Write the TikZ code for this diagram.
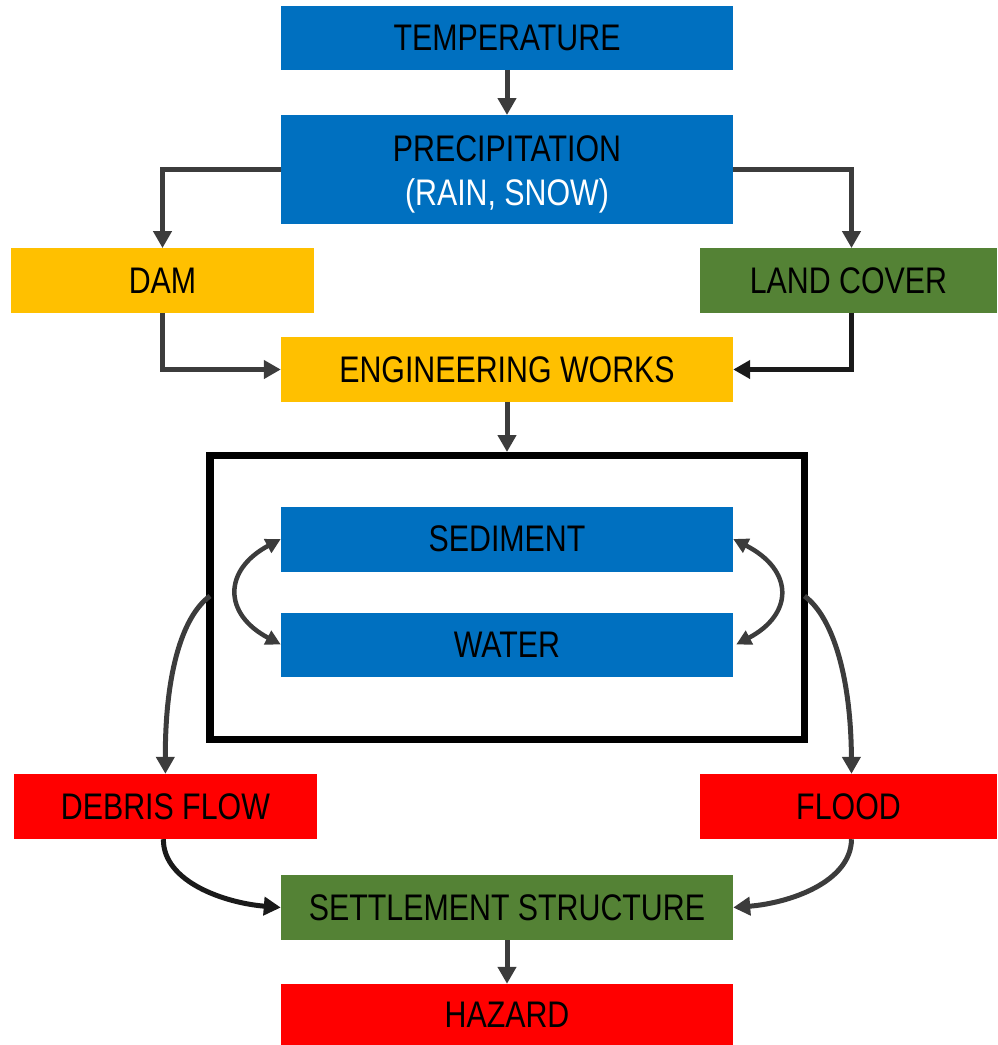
\documentclass[tikz,border=0pt]{standalone}
\usepackage{fontspec}
\setmainfont{Liberation Sans}[FakeStretch=0.82]
\usetikzlibrary{arrows.meta}
\definecolor{cblue}{HTML}{0070C0}
\definecolor{cyellow}{HTML}{FFC000}
\definecolor{cgreen}{HTML}{548235}
\definecolor{cred}{HTML}{FF0000}
\definecolor{carrow}{HTML}{3C3C3C}
\definecolor{cdark}{HTML}{1A1A1A}
\tikzset{
  box/.style={rectangle, inner sep=0pt, minimum width=452pt, minimum height=64pt, text=black,
    font=\fontsize{37}{44}\selectfont},
  conn/.style={draw=carrow, line width=5pt, -{Triangle[length=17pt,width=18pt]}},
  dconn/.style={draw=carrow, line width=4.5pt, {Triangle[length=15pt,width=15pt]}-{Triangle[length=15pt,width=15pt]}},
  txt/.style={inner sep=0pt, anchor=base, font=\fontsize{37}{44}\selectfont}
}
\begin{document}
\begin{tikzpicture}[x=1pt,y=-1pt]
\useasboundingbox (0,0) rectangle (997,1045);
% boxes
\node[box, fill=cblue] (temp) at (507,37.6) {TEMPERATURE};
\node[box, fill=cblue, minimum height=109pt] (precip) at (507,169.7) {};
\node[txt] (p1) at (507,161) {PRECIPITATION};
\node[txt, text=white] (p2) at (507,205.5) {(RAIN, SNOW)};
\node[box, fill=cyellow, minimum width=303pt, minimum height=64.5pt] (dam) at (162.5,280.5) {DAM};
\node[box, fill=cgreen, minimum width=297pt, minimum height=64.5pt] (lc) at (848.5,280.5) {LAND COVER};
\node[box, fill=cyellow, minimum height=64.5pt] (eng) at (507,369.5) {ENGINEERING WORKS};
\draw[line width=7.5pt, black] (210,455.5) rectangle (804.5,739.5);
\coordinate (ftop) at (507,452);
\coordinate (fl) at (210,596);
\coordinate (fr) at (804.5,596);
\node[box, fill=cblue, minimum height=65pt] (sed) at (507,539) {SEDIMENT};
\node[box, fill=cblue] (wat) at (507,644.5) {WATER};
\node[box, fill=cred, minimum width=303pt, minimum height=65pt] (deb) at (165.4,806.5) {DEBRIS FLOW};
\node[box, fill=cred, minimum width=297pt, minimum height=65pt] (flood) at (848.5,806.5) {FLOOD};
\node[box, fill=cgreen, minimum height=65pt] (set) at (507,907.5) {SETTLEMENT STRUCTURE};
\node[box, fill=cred, minimum height=61pt] (haz) at (507,1014.5) {HAZARD};
% connectors
\draw[conn] (temp.south) -- (precip.north);
\draw[conn] (precip.west) -| (dam.north);
\draw[conn] (precip.west) ++(0,0) (precip.east) -| ([xshift=3pt]lc.north);
\draw[conn] (dam.south) |- (eng.west);
\draw[conn, draw=cdark] ([xshift=3pt]lc.south) |- (eng.east);
\draw[conn] (eng.south) -- (ftop);
\draw[dconn] (sed.west) .. controls (223,570) and (223,614) .. (wat.west);
\draw[dconn] (sed.east) .. controls (794,570) and (794,614) .. ([xshift=3pt]wat.east);
\draw[conn] (fl) .. controls (180,618) and (165,680) .. (deb.north);
\draw[conn] (fr) .. controls (834,618) and (851,680) .. ([xshift=3pt]flood.north);
\draw[conn, draw=cdark] ([xshift=-2pt]deb.south) .. controls (163,882) and (225,903) .. (set.west);
\draw[conn] ([xshift=3pt]flood.south) .. controls (851,882) and (790,903) .. (set.east);
\draw[conn] (set.south) -- (haz.north);
\end{tikzpicture}
\end{document}
